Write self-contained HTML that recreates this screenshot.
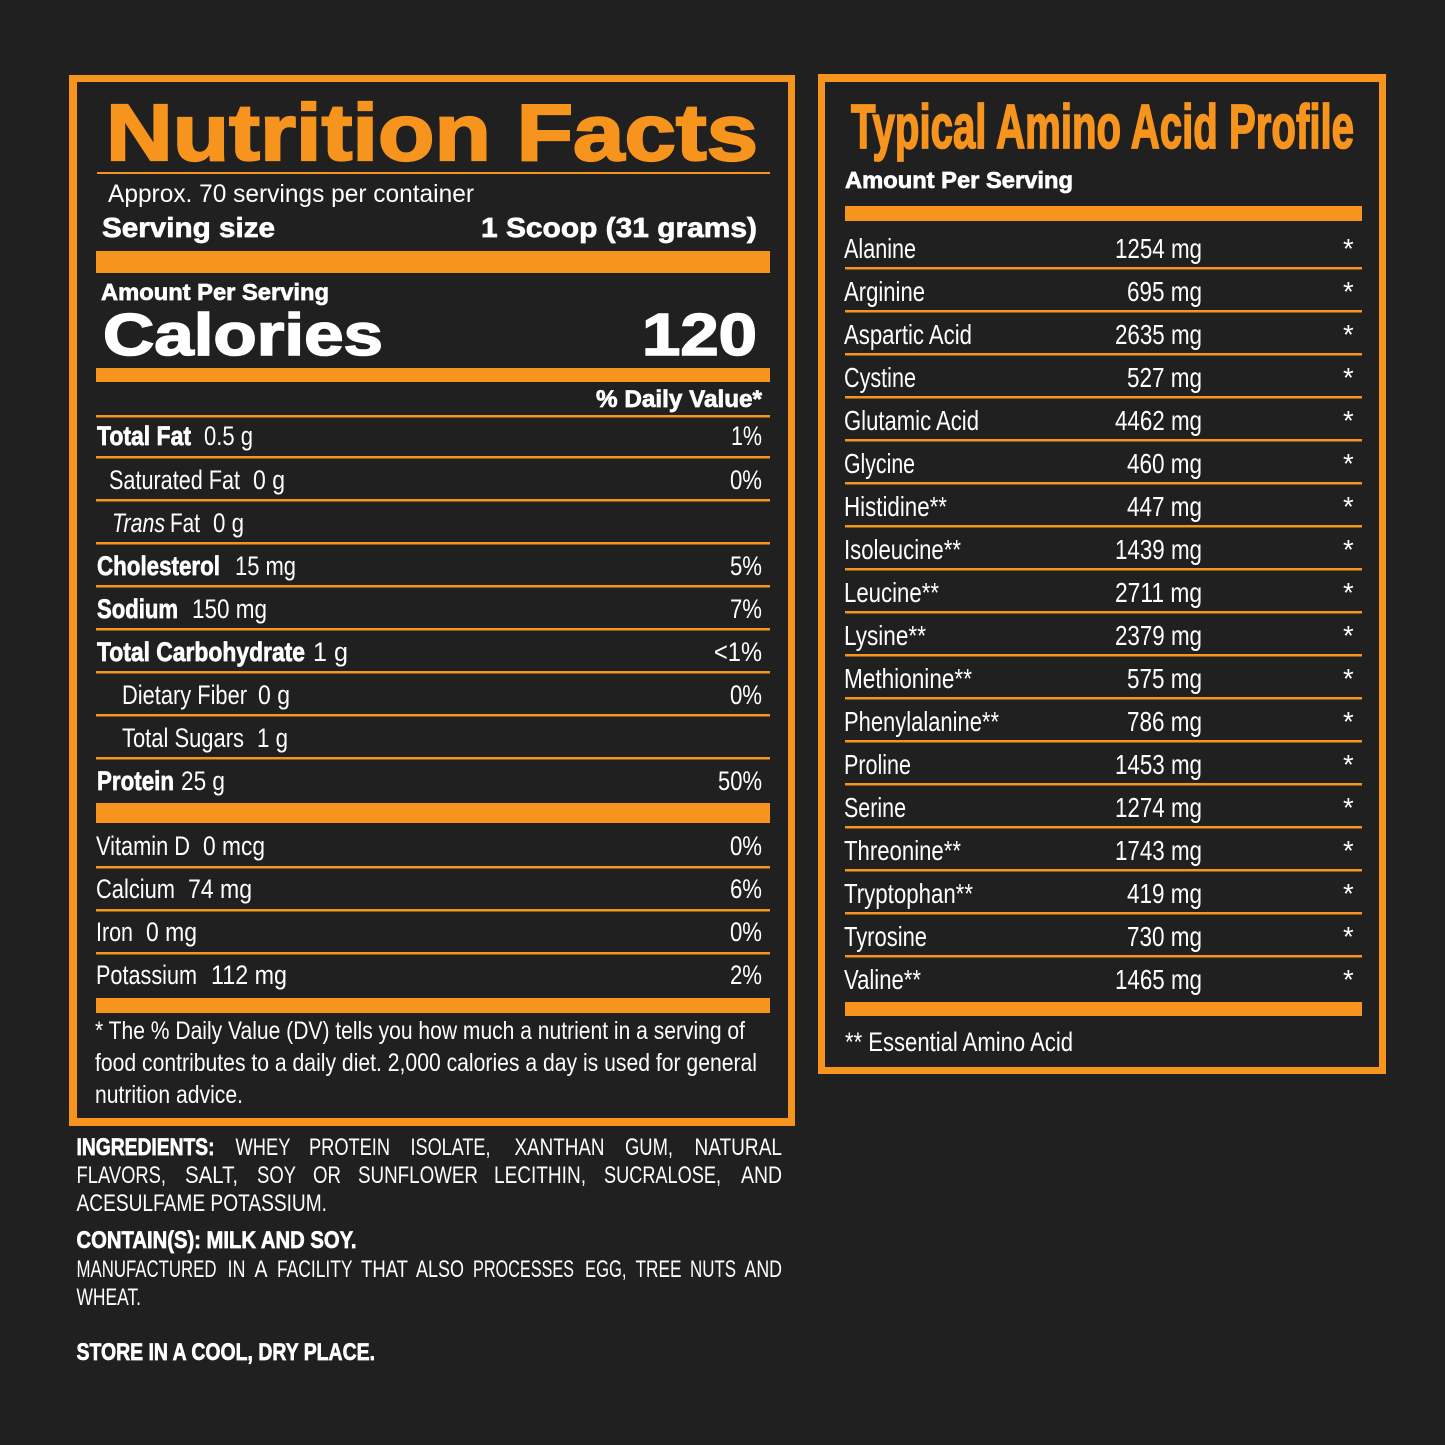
<!DOCTYPE html>
<html><head><meta charset="utf-8"><style>
html,body{margin:0;padding:0;background:#202020;}
svg{display:block;}
text{font-family:"Liberation Sans",Arial,sans-serif;fill:#fff;}
.b{font-weight:bold;stroke:#fff;stroke-width:0.7px;}
.o{fill:#f7941d;}
.r{font-size:27px;}
.ing{font-size:24px;}
</style></head><body>
<svg width="1445" height="1445" viewBox="0 0 1445 1445" xmlns="http://www.w3.org/2000/svg">
<rect x="0" y="0" width="1445" height="1445" fill="#202020"/>

<!-- LEFT BOX -->
<rect x="69" y="75" width="726" height="1051" fill="#f7941d"/>
<rect x="77" y="82" width="711" height="1036" fill="#202020"/>

<text class="b o" x="106" y="160" font-size="80" textLength="652" lengthAdjust="spacingAndGlyphs" style="stroke:#f7941d;stroke-width:2.2px">Nutrition Facts</text>
<rect x="97" y="172" width="673" height="2" fill="#f7941d"/>
<text x="108" y="202" font-size="25" textLength="366" lengthAdjust="spacingAndGlyphs">Approx. 70 servings per container</text>
<text class="b" x="102" y="237" font-size="28" textLength="173" lengthAdjust="spacingAndGlyphs">Serving size</text>
<text class="b" x="481" y="237" font-size="28" textLength="276" lengthAdjust="spacingAndGlyphs">1 Scoop (31 grams)</text>
<rect x="96" y="251" width="674" height="22" fill="#f7941d"/>
<text class="b" x="101" y="300" font-size="23" textLength="228" lengthAdjust="spacingAndGlyphs">Amount Per Serving</text>
<text class="b" x="103" y="355" font-size="59" textLength="280" lengthAdjust="spacingAndGlyphs" style="stroke-width:1.6px">Calories</text>
<text class="b" x="642" y="355" font-size="59" textLength="115" lengthAdjust="spacingAndGlyphs" style="stroke-width:1.6px">120</text>
<rect x="96" y="368" width="674" height="14" fill="#f7941d"/>
<text class="b" x="596" y="407" font-size="24" textLength="166" lengthAdjust="spacingAndGlyphs">% Daily Value*</text>

<g fill="#f7941d">
<rect x="96" y="415" width="674" height="2.5"/>
<rect x="96" y="456" width="674" height="2.5"/>
<rect x="96" y="499" width="674" height="2.5"/>
<rect x="96" y="542" width="674" height="2.5"/>
<rect x="96" y="585" width="674" height="2.5"/>
<rect x="96" y="628" width="674" height="2.5"/>
<rect x="96" y="671" width="674" height="2.5"/>
<rect x="96" y="714" width="674" height="2.5"/>
<rect x="96" y="757" width="674" height="2.5"/>
<rect x="96" y="803" width="674" height="20"/>
<rect x="96" y="866" width="674" height="2.5"/>
<rect x="96" y="909" width="674" height="2.5"/>
<rect x="96" y="952" width="674" height="2.5"/>
<rect x="96" y="998" width="674" height="15"/>
</g>

<g class="r" font-size="27">
<text class="b" x="97" y="445" textLength="94" lengthAdjust="spacingAndGlyphs">Total Fat</text>
<text x="204" y="445" textLength="49" lengthAdjust="spacingAndGlyphs">0.5 g</text>
<text x="731" y="445" textLength="31" lengthAdjust="spacingAndGlyphs">1%</text>

<text x="109" y="489" textLength="131" lengthAdjust="spacingAndGlyphs">Saturated Fat</text>
<text x="253" y="489" textLength="32" lengthAdjust="spacingAndGlyphs">0 g</text>
<text x="730" y="489" textLength="32" lengthAdjust="spacingAndGlyphs">0%</text>

<text x="112" y="532" font-style="italic" textLength="53" lengthAdjust="spacingAndGlyphs">Trans</text>
<text x="170" y="532" textLength="30" lengthAdjust="spacingAndGlyphs">Fat</text>
<text x="213" y="532" textLength="31" lengthAdjust="spacingAndGlyphs">0 g</text>

<text class="b" x="97" y="575" textLength="123" lengthAdjust="spacingAndGlyphs">Cholesterol</text>
<text x="235" y="575" textLength="61" lengthAdjust="spacingAndGlyphs">15 mg</text>
<text x="730" y="575" textLength="32" lengthAdjust="spacingAndGlyphs">5%</text>

<text class="b" x="97" y="618" textLength="81" lengthAdjust="spacingAndGlyphs">Sodium</text>
<text x="192" y="618" textLength="75" lengthAdjust="spacingAndGlyphs">150 mg</text>
<text x="730" y="618" textLength="32" lengthAdjust="spacingAndGlyphs">7%</text>

<text class="b" x="97" y="661" textLength="208" lengthAdjust="spacingAndGlyphs">Total Carbohydrate</text>
<text x="313" y="661" textLength="35" lengthAdjust="spacingAndGlyphs">1 g</text>
<text x="714" y="661" textLength="48" lengthAdjust="spacingAndGlyphs">&lt;1%</text>

<text x="122" y="704" textLength="125" lengthAdjust="spacingAndGlyphs">Dietary Fiber</text>
<text x="258" y="704" textLength="32" lengthAdjust="spacingAndGlyphs">0 g</text>
<text x="730" y="704" textLength="32" lengthAdjust="spacingAndGlyphs">0%</text>

<text x="122" y="747" textLength="122" lengthAdjust="spacingAndGlyphs">Total Sugars</text>
<text x="257" y="747" textLength="31" lengthAdjust="spacingAndGlyphs">1 g</text>

<text class="b" x="97" y="790" textLength="77" lengthAdjust="spacingAndGlyphs">Protein</text>
<text x="181" y="790" textLength="44" lengthAdjust="spacingAndGlyphs">25 g</text>
<text x="718" y="790" textLength="44" lengthAdjust="spacingAndGlyphs">50%</text>

<text x="96" y="855" textLength="94" lengthAdjust="spacingAndGlyphs">Vitamin D</text>
<text x="203" y="855" textLength="62" lengthAdjust="spacingAndGlyphs">0 mcg</text>
<text x="730" y="855" textLength="32" lengthAdjust="spacingAndGlyphs">0%</text>

<text x="96" y="898" textLength="79" lengthAdjust="spacingAndGlyphs">Calcium</text>
<text x="188" y="898" textLength="64" lengthAdjust="spacingAndGlyphs">74 mg</text>
<text x="730" y="898" textLength="32" lengthAdjust="spacingAndGlyphs">6%</text>

<text x="96" y="941" textLength="37" lengthAdjust="spacingAndGlyphs">Iron</text>
<text x="146" y="941" textLength="51" lengthAdjust="spacingAndGlyphs">0 mg</text>
<text x="730" y="941" textLength="32" lengthAdjust="spacingAndGlyphs">0%</text>

<text x="96" y="984" textLength="101" lengthAdjust="spacingAndGlyphs">Potassium</text>
<text x="211" y="984" textLength="76" lengthAdjust="spacingAndGlyphs">112 mg</text>
<text x="730" y="984" textLength="32" lengthAdjust="spacingAndGlyphs">2%</text>
</g>

<g font-size="25">
<text x="95" y="1039" textLength="650" lengthAdjust="spacingAndGlyphs">* The % Daily Value (DV) tells you how much a nutrient in a serving of</text>
<text x="95" y="1071" textLength="662" lengthAdjust="spacingAndGlyphs">food contributes to a daily diet. 2,000 calories a day is used for general</text>
<text x="95" y="1103" textLength="148" lengthAdjust="spacingAndGlyphs">nutrition advice.</text>
</g>

<!-- INGREDIENTS -->
<g class="ing" font-size="24">
<text class="b" x="76.5" y="1155" textLength="138" lengthAdjust="spacingAndGlyphs">INGREDIENTS:</text>
<text x="235.5" y="1155" textLength="55" lengthAdjust="spacingAndGlyphs">WHEY</text>
<text x="309" y="1155" textLength="81" lengthAdjust="spacingAndGlyphs">PROTEIN</text>
<text x="410.5" y="1155" textLength="80" lengthAdjust="spacingAndGlyphs">ISOLATE,</text>
<text x="514.5" y="1155" textLength="90" lengthAdjust="spacingAndGlyphs">XANTHAN</text>
<text x="625" y="1155" textLength="48" lengthAdjust="spacingAndGlyphs">GUM,</text>
<text x="694.5" y="1155" textLength="87.5" lengthAdjust="spacingAndGlyphs">NATURAL</text>

<text x="76.5" y="1183" textLength="89.5" lengthAdjust="spacingAndGlyphs">FLAVORS,</text>
<text x="185" y="1183" textLength="53" lengthAdjust="spacingAndGlyphs">SALT,</text>
<text x="257" y="1183" textLength="39" lengthAdjust="spacingAndGlyphs">SOY</text>
<text x="313" y="1183" textLength="28" lengthAdjust="spacingAndGlyphs">OR</text>
<text x="358" y="1183" textLength="120" lengthAdjust="spacingAndGlyphs">SUNFLOWER</text>
<text x="494" y="1183" textLength="92" lengthAdjust="spacingAndGlyphs">LECITHIN,</text>
<text x="604" y="1183" textLength="117" lengthAdjust="spacingAndGlyphs">SUCRALOSE,</text>
<text x="741" y="1183" textLength="41" lengthAdjust="spacingAndGlyphs">AND</text>

<text x="76.5" y="1211" textLength="250.5" lengthAdjust="spacingAndGlyphs">ACESULFAME POTASSIUM.</text>

<text class="b" x="76.5" y="1248" textLength="280" lengthAdjust="spacingAndGlyphs">CONTAIN(S): MILK AND SOY.</text>

<text x="76.5" y="1277" textLength="140" lengthAdjust="spacingAndGlyphs">MANUFACTURED</text>
<text x="227.5" y="1277" textLength="18" lengthAdjust="spacingAndGlyphs">IN</text>
<text x="254.5" y="1277" textLength="13" lengthAdjust="spacingAndGlyphs">A</text>
<text x="277" y="1277" textLength="75.5" lengthAdjust="spacingAndGlyphs">FACILITY</text>
<text x="361" y="1277" textLength="47" lengthAdjust="spacingAndGlyphs">THAT</text>
<text x="416" y="1277" textLength="48" lengthAdjust="spacingAndGlyphs">ALSO</text>
<text x="473" y="1277" textLength="101" lengthAdjust="spacingAndGlyphs">PROCESSES</text>
<text x="585" y="1277" textLength="41.5" lengthAdjust="spacingAndGlyphs">EGG,</text>
<text x="635.5" y="1277" textLength="46" lengthAdjust="spacingAndGlyphs">TREE</text>
<text x="690" y="1277" textLength="46" lengthAdjust="spacingAndGlyphs">NUTS</text>
<text x="744.5" y="1277" textLength="37.5" lengthAdjust="spacingAndGlyphs">AND</text>

<text x="76.5" y="1305" textLength="64.5" lengthAdjust="spacingAndGlyphs">WHEAT.</text>

<text class="b" x="76.5" y="1360" textLength="298.5" lengthAdjust="spacingAndGlyphs">STORE IN A COOL, DRY PLACE.</text>
</g>

<!-- RIGHT BOX -->
<rect x="818" y="74" width="568" height="1000" fill="#f7941d"/>
<rect x="825" y="82" width="554" height="985" fill="#202020"/>

<text class="b o" x="851" y="148" font-size="62" textLength="503" lengthAdjust="spacingAndGlyphs" style="stroke:#f7941d;stroke-width:1.8px">Typical Amino Acid Profile</text>
<text class="b" x="845" y="188" font-size="23" textLength="228" lengthAdjust="spacingAndGlyphs">Amount Per Serving</text>
<rect x="845" y="206" width="517" height="15" fill="#f7941d"/>

<g fill="#f7941d">
<rect x="845" y="267" width="517" height="2.5"/>
<rect x="845" y="310" width="517" height="2.5"/>
<rect x="845" y="353" width="517" height="2.5"/>
<rect x="845" y="396" width="517" height="2.5"/>
<rect x="845" y="439" width="517" height="2.5"/>
<rect x="845" y="482" width="517" height="2.5"/>
<rect x="845" y="525" width="517" height="2.5"/>
<rect x="845" y="568" width="517" height="2.5"/>
<rect x="845" y="611" width="517" height="2.5"/>
<rect x="845" y="654" width="517" height="2.5"/>
<rect x="845" y="697" width="517" height="2.5"/>
<rect x="845" y="740" width="517" height="2.5"/>
<rect x="845" y="783" width="517" height="2.5"/>
<rect x="845" y="826" width="517" height="2.5"/>
<rect x="845" y="869" width="517" height="2.5"/>
<rect x="845" y="912" width="517" height="2.5"/>
<rect x="845" y="955" width="517" height="2.5"/>
<rect x="845" y="1002" width="517" height="14"/>
</g>

<g font-size="27.5">
<text x="844" y="258" textLength="72" lengthAdjust="spacingAndGlyphs">Alanine</text>
<text x="1115" y="258" textLength="87" lengthAdjust="spacingAndGlyphs">1254 mg</text>
<text x="1343" y="258">*</text>

<text x="844" y="301" textLength="81" lengthAdjust="spacingAndGlyphs">Arginine</text>
<text x="1127" y="301" textLength="75" lengthAdjust="spacingAndGlyphs">695 mg</text>
<text x="1343" y="301">*</text>

<text x="844" y="344" textLength="128" lengthAdjust="spacingAndGlyphs">Aspartic Acid</text>
<text x="1115" y="344" textLength="87" lengthAdjust="spacingAndGlyphs">2635 mg</text>
<text x="1343" y="344">*</text>

<text x="844" y="387" textLength="72" lengthAdjust="spacingAndGlyphs">Cystine</text>
<text x="1127" y="387" textLength="75" lengthAdjust="spacingAndGlyphs">527 mg</text>
<text x="1343" y="387">*</text>

<text x="844" y="430" textLength="135" lengthAdjust="spacingAndGlyphs">Glutamic Acid</text>
<text x="1115" y="430" textLength="87" lengthAdjust="spacingAndGlyphs">4462 mg</text>
<text x="1343" y="430">*</text>

<text x="844" y="473" textLength="71" lengthAdjust="spacingAndGlyphs">Glycine</text>
<text x="1127" y="473" textLength="75" lengthAdjust="spacingAndGlyphs">460 mg</text>
<text x="1343" y="473">*</text>

<text x="844" y="516" textLength="103" lengthAdjust="spacingAndGlyphs">Histidine**</text>
<text x="1127" y="516" textLength="75" lengthAdjust="spacingAndGlyphs">447 mg</text>
<text x="1343" y="516">*</text>

<text x="844" y="559" textLength="117" lengthAdjust="spacingAndGlyphs">Isoleucine**</text>
<text x="1115" y="559" textLength="87" lengthAdjust="spacingAndGlyphs">1439 mg</text>
<text x="1343" y="559">*</text>

<text x="844" y="602" textLength="95" lengthAdjust="spacingAndGlyphs">Leucine**</text>
<text x="1115" y="602" textLength="87" lengthAdjust="spacingAndGlyphs">2711 mg</text>
<text x="1343" y="602">*</text>

<text x="844" y="645" textLength="82" lengthAdjust="spacingAndGlyphs">Lysine**</text>
<text x="1115" y="645" textLength="87" lengthAdjust="spacingAndGlyphs">2379 mg</text>
<text x="1343" y="645">*</text>

<text x="844" y="688" textLength="128" lengthAdjust="spacingAndGlyphs">Methionine**</text>
<text x="1127" y="688" textLength="75" lengthAdjust="spacingAndGlyphs">575 mg</text>
<text x="1343" y="688">*</text>

<text x="844" y="731" textLength="155" lengthAdjust="spacingAndGlyphs">Phenylalanine**</text>
<text x="1127" y="731" textLength="75" lengthAdjust="spacingAndGlyphs">786 mg</text>
<text x="1343" y="731">*</text>

<text x="844" y="774" textLength="67" lengthAdjust="spacingAndGlyphs">Proline</text>
<text x="1115" y="774" textLength="87" lengthAdjust="spacingAndGlyphs">1453 mg</text>
<text x="1343" y="774">*</text>

<text x="844" y="817" textLength="62" lengthAdjust="spacingAndGlyphs">Serine</text>
<text x="1115" y="817" textLength="87" lengthAdjust="spacingAndGlyphs">1274 mg</text>
<text x="1343" y="817">*</text>

<text x="844" y="860" textLength="117" lengthAdjust="spacingAndGlyphs">Threonine**</text>
<text x="1115" y="860" textLength="87" lengthAdjust="spacingAndGlyphs">1743 mg</text>
<text x="1343" y="860">*</text>

<text x="844" y="903" textLength="129" lengthAdjust="spacingAndGlyphs">Tryptophan**</text>
<text x="1127" y="903" textLength="75" lengthAdjust="spacingAndGlyphs">419 mg</text>
<text x="1343" y="903">*</text>

<text x="844" y="946" textLength="83" lengthAdjust="spacingAndGlyphs">Tyrosine</text>
<text x="1127" y="946" textLength="75" lengthAdjust="spacingAndGlyphs">730 mg</text>
<text x="1343" y="946">*</text>

<text x="844" y="989" textLength="77" lengthAdjust="spacingAndGlyphs">Valine**</text>
<text x="1115" y="989" textLength="87" lengthAdjust="spacingAndGlyphs">1465 mg</text>
<text x="1343" y="989">*</text>
</g>

<text x="845" y="1051" font-size="27" textLength="228" lengthAdjust="spacingAndGlyphs">** Essential Amino Acid</text>
</svg>
</body></html>
